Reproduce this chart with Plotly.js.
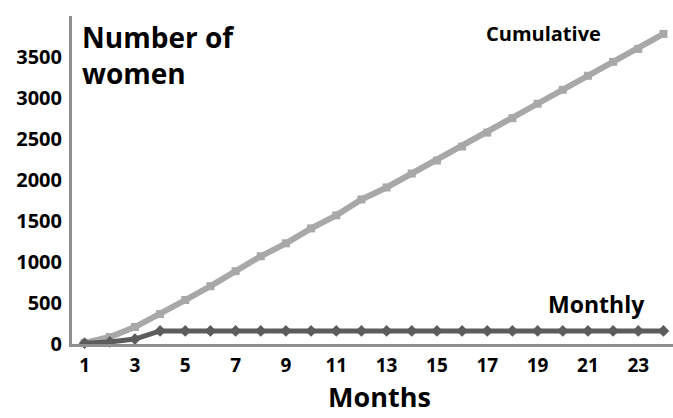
<!DOCTYPE html>
<html>
<head>
<meta charset="utf-8">
<script src="https://cdn.plot.ly/plotly-3.0.1.min.js"></script>
<style>html,body{margin:0;padding:0;background:#fff;}#chart{width:673px;height:418px;}</style>
</head>
<body>
<div id="chart"></div>
<script>
const months = [1,2,3,4,5,6,7,8,9,10,11,12,13,14,15,16,17,18,19,20,21,22,23,24];
const cumulative = [12,85,207,365,536,705,888,1070,1228,1410,1569,1763,1909,2079,2237,2408,2578,2754,2930,3100,3271,3441,3599,3782];
const monthly = [10,25,60,160,160,160,160,160,160,160,160,160,160,160,160,160,160,160,160,160,160,160,160,160];
const xTickVals = [1,3,5,7,9,11,13,15,17,19,21,23];
const yTickVals = [0,500,1000,1500,2000,2500,3000,3500];
const seriesNames = ["Cumulative","Monthly"];

const font = "'Open Sans', 'DejaVu Sans', sans-serif";

const traces = [
  {x: months, y: cumulative, name: seriesNames[0], type: 'scatter', mode: 'lines+markers',
   line: {color: '#a8a8a8', width: 6}, marker: {symbol: 'square', size: 8, color: '#a8a8a8'}, cliponaxis: false},
  {x: months, y: monthly, name: seriesNames[1], type: 'scatter', mode: 'lines+markers',
   line: {color: '#5c5c5c', width: 5}, marker: {symbol: 'diamond', size: 9, color: '#5c5c5c'}, cliponaxis: false}
];

const layout = {
  width: 673, height: 418,
  margin: {l: 72, r: 0, t: 16, b: 74},
  paper_bgcolor: '#fff', plot_bgcolor: '#fff',
  showlegend: false,
  font: {family: font, color: '#000'},
  xaxis: {
    range: [0.5, 24.38], tickmode: 'array', tickvals: xTickVals, ticktext: xTickVals.map(String),
    showgrid: false, zeroline: false, showline: true, linecolor: '#8f8f8f', linewidth: 3,
    ticks: '', tickfont: {family: font, size: 19, color: '#000', weight: 'bold'}, ticklabelstandoff: 2
  },
  yaxis: {
    range: [0, 4000], tickmode: 'array', tickvals: yTickVals, ticktext: yTickVals.map(String),
    showgrid: false, zeroline: false, showline: true, linecolor: '#8f8f8f', linewidth: 3,
    ticks: '', tickfont: {family: font, size: 20, color: '#000', weight: 'bold'}, ticklabelstandoff: 3
  },
  annotations: [
    {xref: 'paper', yref: 'paper', x: 0.014, y: 1.0, xanchor: 'left', yanchor: 'top', align: 'left',
     text: '<b>Number of<br>women</b>', showarrow: false, font: {family: font, size: 28, color: '#000'}},
    {xref: 'paper', yref: 'paper', x: 0.884, y: 0.948, xanchor: 'right', yanchor: 'middle',
     text: '<b>Cumulative</b>', showarrow: false, font: {family: font, size: 20, color: '#000'}},
    {xref: 'paper', yref: 'paper', x: 0.957, y: 0.122, xanchor: 'right', yanchor: 'middle',
     text: '<b>Monthly</b>', showarrow: false, font: {family: font, size: 23, color: '#000'}},
    {xref: 'paper', yref: 'paper', x: 0.512, y: -0.224, xanchor: 'center', yanchor: 'bottom',
     text: '<b>Months</b>', showarrow: false, font: {family: font, size: 27, color: '#000'}}
  ]
};

Plotly.newPlot('chart', traces, layout, {displayModeBar: false, staticPlot: true});
</script>
</body>
</html>
